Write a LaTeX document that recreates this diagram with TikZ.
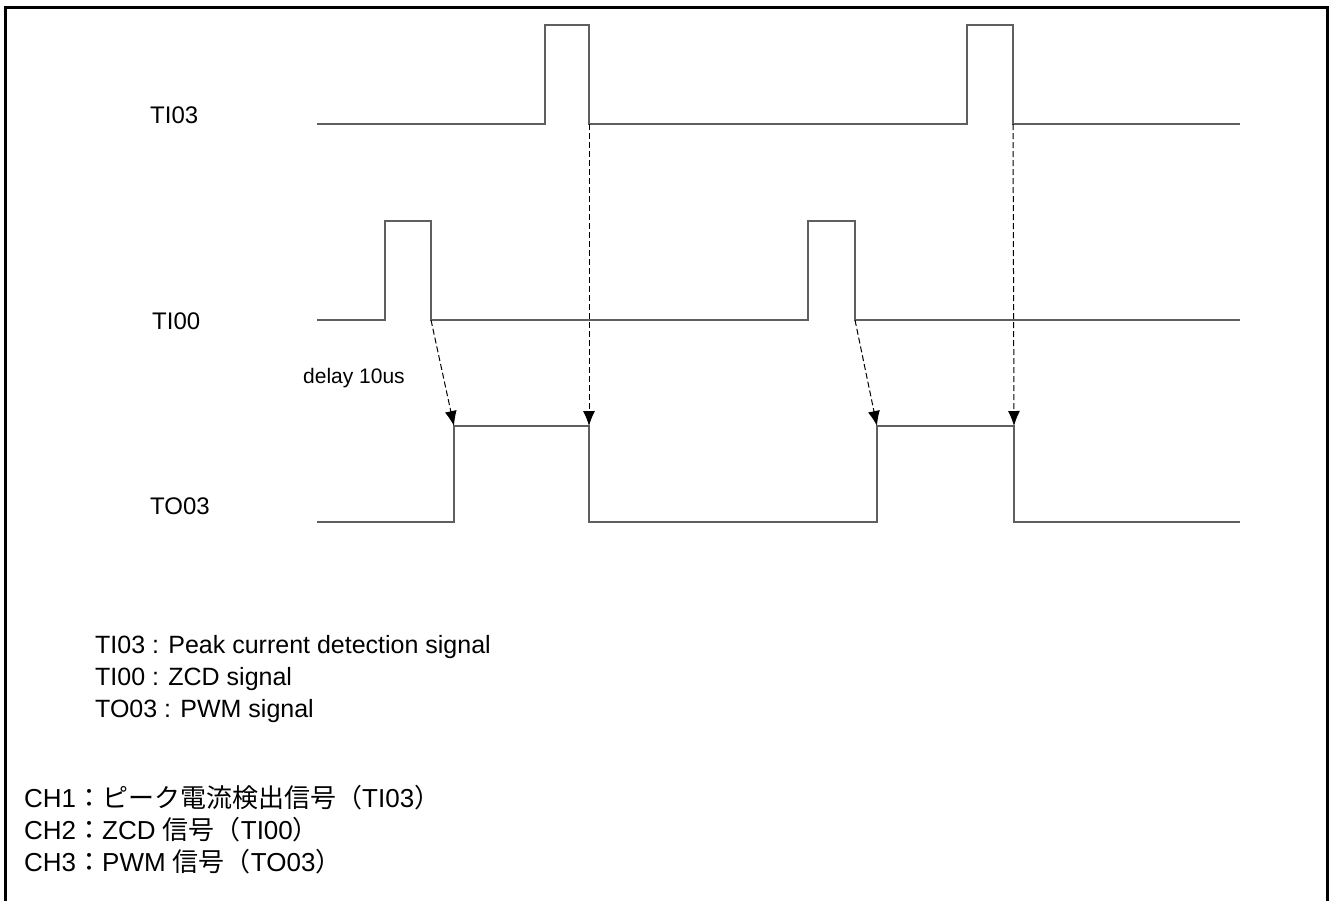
\documentclass[tikz,border=0pt]{standalone}
\usepackage{fontspec}
\setmainfont{Liberation Sans}
\newfontfamily\cjk{Noto Sans CJK JP}
\usetikzlibrary{arrows.meta}
\definecolor{sigcol}{RGB}{95,95,95}
\tikzset{
  sig/.style={draw=sigcol, line width=1.6pt},
  frame/.style={draw=black, line width=3pt},
  trig/.style={draw=black, line width=1pt, dash pattern=on 6pt off 3pt, -{Latex[length=15pt,width=12pt]}},
  siglabel/.style={anchor=base west, inner sep=0pt, font=\fontsize{24}{28}\selectfont},
  legend/.style={anchor=base west, inner sep=0pt, font=\fontsize{25}{30}\selectfont},
  chtext/.style={anchor=base west, inner sep=0pt, font=\fontsize{26}{32}\selectfont},
  note/.style={anchor=base west, inner sep=0pt, font=\fontsize{21}{26}\selectfont}
}
\begin{document}
\begin{tikzpicture}[x=1pt,y=-1pt]
\useasboundingbox (0,0) rectangle (1330,900);
% frame (open at the bottom)
\draw[frame] (5,910) -- (5,7) -- (1327,7) -- (1327,910);

% signal labels
\node[siglabel] (lTI03) at (150,123) {TI03};
\node[siglabel] (lTI00) at (152,329) {TI00};
\node[siglabel] (lTO03) at (150,514) {TO03};

% TI03 waveform
\draw[sig] (317,124) -- (545,124) -- (545,25) -- (589,25) -- (589,124)
  -- (967,124) -- (967,25) -- (1013,25) -- (1013,124) -- (1240,124);
% TI00 waveform
\draw[sig] (317,320) -- (385,320) -- (385,221) -- (431,221) -- (431,320)
  -- (808,320) -- (808,221) -- (855,221) -- (855,320) -- (1240,320);
% TO03 waveform
\draw[sig] (317,522) -- (454,522) -- (454,426) -- (589,426) -- (589,522)
  -- (877,522) -- (877,426) -- (1014,426) -- (1014,522) -- (1240,522);

% trigger coordinates
\coordinate (pk1) at (589,124);
\coordinate (pk2) at (1013,124);
\coordinate (zc1) at (431,320);
\coordinate (zc2) at (855,320);
\coordinate (on1) at (454,426);
\coordinate (off1) at (589,426);
\coordinate (on2) at (877,426);
\coordinate (off2) at (1014,426);

\draw[trig] (zc1) -- (on1);
\draw[trig] (zc2) -- (on2);
\draw[trig] (pk1) -- (off1);
\draw[trig] (pk2) -- (off2);

\node[note] (delay) at (303,383) {delay 10us};

% legend
\node[legend] (leg1) at (95,653) {TI03 : Peak current detection signal};
\node[legend] (leg2) at (95,685) {TI00 : ZCD signal};
\node[legend] (leg3) at (95,717) {TO03 : PWM signal};

% channel list
\node[chtext] (ch1) at (24,807) {CH1{\cjk ：ピーク電流検出信号（}TI03{\cjk ）}};
\node[chtext] (ch2) at (24,839) {CH2{\cjk ：}ZCD {\cjk 信号（}TI00{\cjk ）}};
\node[chtext] (ch3) at (24,871) {CH3{\cjk ：}PWM {\cjk 信号（}TO03{\cjk ）}};
\end{tikzpicture}
\end{document}
